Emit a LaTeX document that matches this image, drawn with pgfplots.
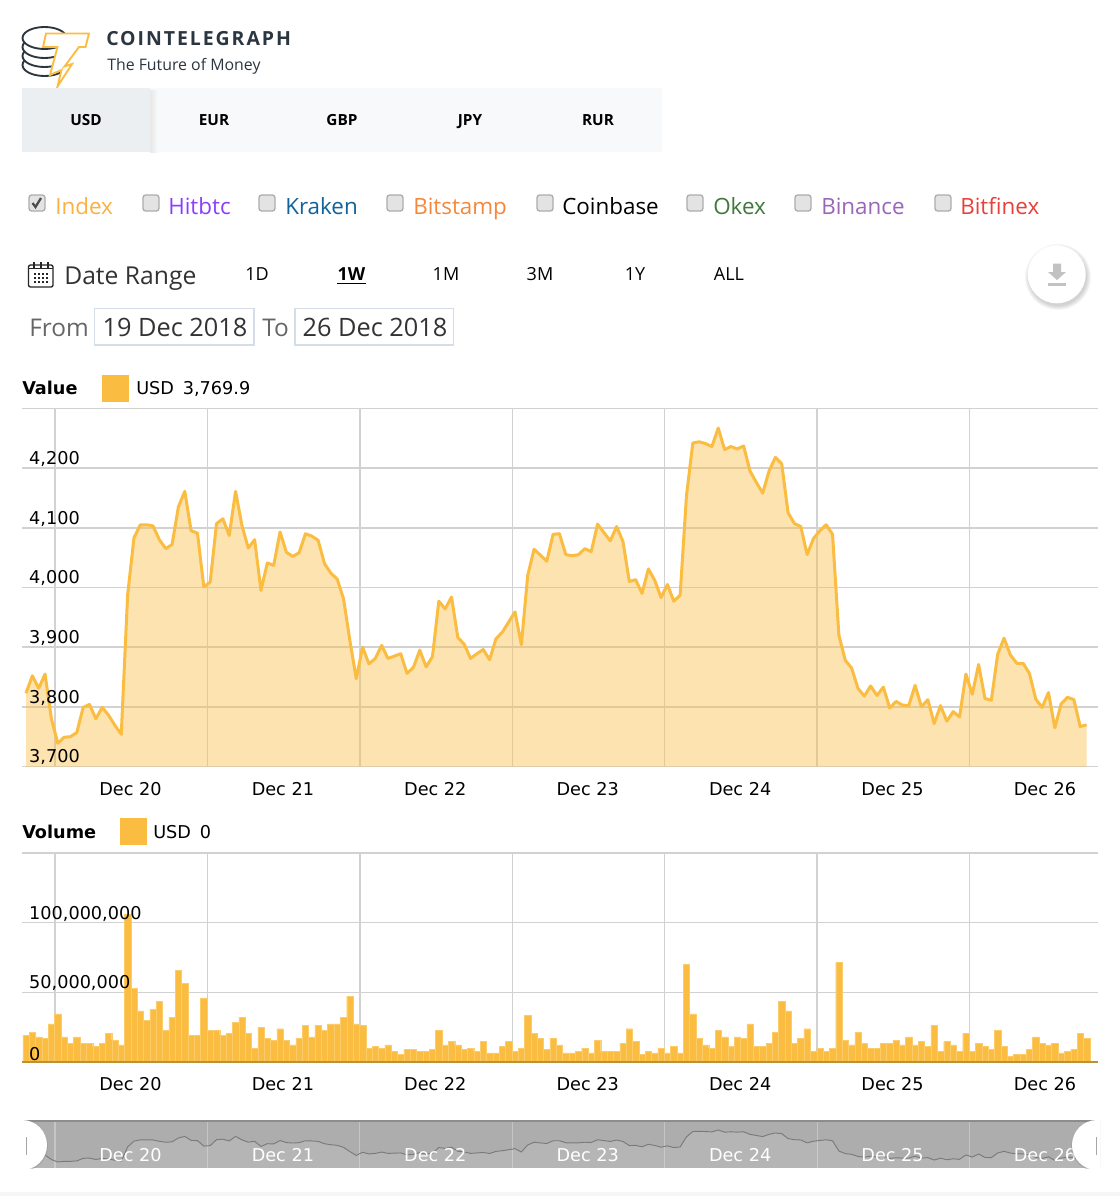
\documentclass[border=0pt]{standalone}
\usepackage{pgfplots}
\usepackage{pgfplotstable}
\usepackage{fontspec}
\pgfplotsset{compat=1.18}
\setmainfont{DejaVu Sans}
\newfontfamily\os{Open Sans}
\newfontfamily\osb[LetterSpace=10]{Open Sans}
\definecolor{gold}{HTML}{FBBD41}
\definecolor{gridc}{HTML}{D2D2D2}
\definecolor{dark}{HTML}{2B3640}
\definecolor{strip}{HTML}{F5F6F7}
\definecolor{tabbar}{HTML}{F8F9FA}
\definecolor{tabon}{HTML}{EBEFF2}
\definecolor{boxc}{HTML}{D5DDE8}
\definecolor{baseln}{HTML}{BC9238}
\newcommand{\fs}[1]{\fontsize{#1}{#1}\selectfont}
\pgfplotstableread{
i price vol
0 3823 19300000
1 3852 21500000
2 3831 18100000
3 3855 17100000
4 3780 27300000
5 3739 34500000
6 3749 18100000
7 3750 13500000
8 3757 18100000
9 3799 13500000
10 3804 13500000
11 3780 11400000
12 3799 13500000
13 3786 20500000
14 3769 15700000
15 3754 12300000
16 3987 105800000
17 4083 53100000
18 4105 36700000
19 4105 29700000
20 4103 37900000
21 4080 43700000
22 4065 22900000
23 4072 32100000
24 4135 65700000
25 4161 56300000
26 4095 19300000
27 4091 19300000
28 4001 46100000
29 4009 22900000
30 4107 22900000
31 4115 19300000
32 4087 20500000
33 4161 28700000
34 4104 32100000
35 4066 20500000
36 4080 9900000
37 3995 25100000
38 4041 17100000
39 4037 15700000
40 4093 23900000
41 4059 15700000
42 4052 12300000
43 4058 17100000
44 4090 26300000
45 4086 18100000
46 4079 26300000
47 4040 22900000
48 4024 27300000
49 4014 27300000
50 3981 32100000
51 3911 47300000
52 3847 27300000
53 3900 26300000
54 3872 9900000
55 3881 11400000
56 3903 9900000
57 3881 12300000
58 3885 7700000
59 3889 5600000
60 3856 8900000
61 3866 8900000
62 3895 7700000
63 3867 7700000
64 3884 8900000
65 3977 22900000
66 3964 12300000
67 3984 14700000
68 3916 12300000
69 3905 8900000
70 3881 9900000
71 3889 7700000
72 3896 14700000
73 3879 6500000
74 3914 6500000
75 3925 11400000
76 3942 14700000
77 3959 7700000
78 3904 9900000
79 4020 33300000
80 4064 20500000
81 4054 17100000
82 4044 8900000
83 4089 17100000
84 4090 12300000
85 4055 6500000
86 4053 6500000
87 4055 7700000
88 4065 9900000
89 4060 6500000
90 4106 15700000
91 4092 7700000
92 4078 7700000
93 4102 7700000
94 4077 13500000
95 4010 23900000
96 4013 14700000
97 3990 5600000
98 4031 7700000
99 4012 6500000
100 3983 9900000
101 4005 6500000
102 3977 11400000
103 3987 6500000
104 4154 70300000
105 4242 34500000
106 4244 17100000
107 4241 12300000
108 4236 9900000
109 4267 22900000
110 4231 18100000
111 4236 11400000
112 4232 18100000
113 4237 17100000
114 4195 27300000
115 4176 11400000
116 4158 11400000
117 4195 13500000
118 4218 21500000
119 4207 43700000
120 4125 36700000
121 4107 13500000
122 4102 17100000
123 4055 23900000
124 4082 7700000
125 4095 9900000
126 4105 7700000
127 4089 9900000
128 3920 71500000
129 3878 15700000
130 3865 12300000
131 3831 21500000
132 3818 13500000
133 3835 9900000
134 3819 9900000
135 3833 13500000
136 3798 13500000
137 3809 15700000
138 3803 12300000
139 3802 18100000
140 3836 12300000
141 3800 14700000
142 3812 11400000
143 3772 26300000
144 3802 7700000
145 3776 14700000
146 3792 12300000
147 3783 7700000
148 3855 20500000
149 3821 7700000
150 3871 13500000
151 3814 11400000
152 3811 8900000
153 3888 22900000
154 3915 11400000
155 3887 4300000
156 3873 5600000
157 3873 5600000
158 3856 8900000
159 3813 18100000
160 3799 13500000
161 3824 12300000
162 3765 13500000
163 3805 6500000
164 3816 7700000
165 3812 8900000
166 3767 20500000
167 3769.9 17100000
}\chartdata
\pgfplotsset{
  common/.style={
    scale only axis, width=807pt, anchor=south west,
    xmin=-0.63, xmax=168.8,
    xtick={4.57,28.57,52.57,76.57,100.57,124.57,148.57},
    major tick length=0pt,
    axis line style={draw=none},
  },
  plotpart/.style={
    common,
    xticklabels={}, yticklabels={},
    xmajorgrids, ymajorgrids,
    x grid style={gridc, line width=1.15pt},
    y grid style={gridc, line width=1.15pt},
  },
  labelpart/.style={
    common,
    xticklabels={Dec 20,Dec 21,Dec 22,Dec 23,Dec 24,Dec 25,Dec 26},
    tick label style={font=\fs{13.25}, text=black},
    xticklabel style={xshift=56.6pt, anchor=north, yshift=-9.5pt, inner sep=2pt},
    yticklabel style={anchor=south west, inner sep=0pt, xshift=5.2pt, yshift=1pt},
  },
  valueaxis/.style={at={(16.5pt,-574.9pt)}, height=268.65pt,
    ymin=3700, ymax=4300, ytick={3700,3800,3900,4000,4100,4200,4300}},
  volaxis/.style={at={(16.5pt,-796.5pt)}, height=156.75pt,
    ymin=0, ymax=150000000, ytick={0,50000000,100000000,150000000}, scaled y ticks=false},
  navaxis/.style={at={(16.5pt,-876pt)}, height=35.25pt, ymin=3640, ymax=4415, ytick=\empty},
}
\begin{document}
\begin{tikzpicture}
\path[use as bounding box] (0,0) rectangle (840pt,-897pt);
\fill[white] (0,0) rectangle (840pt,-897pt);
\begin{scope}[x=0.75pt,y=-0.75pt]
\fill[strip] (0,1192) rectangle (1120,1196);
\end{scope}

% value chart
\begin{axis}[plotpart, valueaxis]
\addplot[fill=gold, fill opacity=0.42, draw=none] table[x=i,y=price] {\chartdata} \closedcycle;
\addplot[gold, line width=2.25pt, line join=round, no marks] table[x=i,y=price] {\chartdata};
\end{axis}
\begin{axis}[labelpart, valueaxis,
  yticklabels={3{,}700,3{,}800,3{,}900,4{,}000,4{,}100,4{,}200,{}}]
\end{axis}

% volume chart
\begin{axis}[plotpart, volaxis]
\addplot[ybar, bar width=4.76pt, bar shift=0pt, fill=gold, draw=gold!78!white, line width=0.25pt] table[x=i,y=vol] {\chartdata};
\end{axis}
\begin{axis}[labelpart, volaxis,
  yticklabels={0,{50,000,000},{100,000,000},{}}]
\end{axis}

% navigator
\begin{axis}[plotpart, navaxis,
  axis background/.style={fill=black!32},
  x grid style={white, opacity=0.3, line width=0.8pt}]
\addplot[fill=white, fill opacity=0.1, draw=none] table[x=i,y=price] {\chartdata} \closedcycle;
\addplot[black!52, line width=0.7pt, no marks] table[x=i,y=price] {\chartdata};
\end{axis}
\begin{axis}[labelpart, navaxis,
  xticklabel style={text=white, yshift=26.1pt}]
\end{axis}

\begin{scope}[x=0.75pt,y=-0.75pt]
% baseline of the volume chart
\draw[baseln, line width=0.8pt] (22,1062) -- (1098,1062);
% navigator top edge and handles
\draw[black!45, line width=0.8pt] (22,1121) -- (1098,1121);
\begin{scope}
\clip (18,1120.5) rectangle (1100,1168);
\fill[black!40,opacity=.5] (23,1146) circle (25);
\fill[white] (22,1145) circle (25);
\fill[black!40,opacity=.5] (1096,1146) circle (25);
\fill[white] (1097,1145) circle (25);
\end{scope}
\fill[black!35] (25.5,1137) rectangle (27,1155);
\fill[black!35] (1095.5,1137) rectangle (1097,1155);

% logo
\foreach \y in {65,56,47,38}
  \draw[dark, fill=white, line width=1.4pt] (44.5,\y) ellipse (22 and 11);
\draw[gold, fill=white, line width=1.4pt, line join=miter] (46,33.5) -- (89,33.5) -- (85.5,47) -- (79,47) -- (64.5,66.5) -- (72,64) -- (57.5,86.5) -- (61.5,70) -- (50,75) -- (57.5,47) -- (43,47) -- cycle;
\node[anchor=west, inner sep=0pt, text=dark] at (106,39) {\fs{14.6}\osb\bfseries COINTELEGRAPH};
\node[anchor=west, inner sep=0pt, text=dark] at (107,66) {\fs{11.9}\os The Future of Money};

% currency tabs
\fill[tabbar] (22,88) rectangle (662,152);
\shade[left color=black!9, right color=tabbar] (150,90) rectangle (158,152);
\fill[tabon] (22,88) rectangle (150,152);
\foreach \x/\t in {86/USD,214/EUR,342/GBP,470/JPY,598/RUR}
  \node[anchor=base, inner sep=0pt] at (\x,125) {\fs{11.5}\os\bfseries \t};

% checkboxes
\foreach \x in {37,151,267,395,545,695,803,943}
  \draw[black!32, fill=black!11, line width=1pt, rounded corners=2pt] (\x-8,195) rectangle (\x+8,211);
\draw[black!70, line width=1.7pt] (32.5,203) -- (35.5,207) -- (41,198);
\foreach \x/\t/\c in {55/Index/FBB040,168/Hitbtc/8A3FFC,285/Kraken/10639B,413/Bitstamp/F5883A,562/Coinbase/000000,713/Okex/3F7A3B,821/Binance/9966B8,960/Bitfinex/E8403A}
  \node[anchor=base west, inner sep=0pt] at (\x,214) {\definecolor{tc}{HTML}{\c}\color{tc}\fs{16.8}\os \t};

% date range row
\draw[black!85, line width=1pt, rounded corners=1.5pt] (28.5,265) rectangle (53,287);
\draw[black!85, line width=0.8pt] (28.5,268.5) -- (53,268.5);
\foreach \x in {34,41,48} \draw[black!85, line width=0.9pt] (\x,262) -- (\x,268);
\foreach \x in {35,39,43,47} \foreach \y in {274,278,282}
  \fill[black!85] (\x-1.2,\y-1.2) rectangle (\x+1.2,\y+1.2);
\node[anchor=base west, inner sep=0pt, text=black!80] at (64,284) {\fs{18.5}\os Date Range};
\foreach \x/\t in {257/1D,446/1M,540/3M,635/1Y,729/ALL}
  \node[anchor=base, inner sep=0pt] at (\x,280) {\fs{13.5}\os \t};
\node[anchor=base, inner sep=0pt] at (351.5,280) {\fs{13.5}\os\bfseries 1W};
\draw[black, line width=1pt] (337,283.5) -- (366,283.5);
% download button
\foreach \r in {33,32,31,30,29}
  \fill[black,opacity=.035] (1058,277) circle (\r);
\fill[white] (1056.7,274.3) circle (29);
\fill[black!24] (1053,263.5) -- (1061,263.5) -- (1061,272) -- (1066,272) -- (1057,280) -- (1048,272) -- (1053,272) -- cycle;
\fill[black!24] (1048,283) rectangle (1066,286);
% from - to
\node[anchor=base west, inner sep=0pt, text=black!60] at (29,336) {\fs{18.3}\os From};
\draw[boxc, line width=1pt] (94.5,308.5) rectangle (254,345);
\node[anchor=base, inner sep=0pt, text=black!80] at (175,336) {\fs{19}\os 19 Dec 2018};
\node[anchor=base west, inner sep=0pt, text=black!60] at (262,336) {\fs{18.3}\os To};
\draw[boxc, line width=1pt] (295,308.5) rectangle (453.5,345);
\node[anchor=base, inner sep=0pt, text=black!80] at (375,336) {\fs{19}\os 26 Dec 2018};

% legends of the two charts
\node[anchor=base west, inner sep=0pt] at (22,394) {\fs{13.25}\bfseries Value};
\fill[gold] (102,375) rectangle (129,402);
\node[anchor=base west, inner sep=0pt] at (136,394) {\fs{13.25}USD\hspace{0.5em}3,769.9};
\node[anchor=base west, inner sep=0pt] at (22,838) {\fs{13.25}\bfseries Volume};
\fill[gold] (120,818) rectangle (147,845);
\node[anchor=base west, inner sep=0pt] at (153,838) {\fs{13.25}USD\hspace{0.5em}0};
\end{scope}
\end{tikzpicture}
\end{document}
